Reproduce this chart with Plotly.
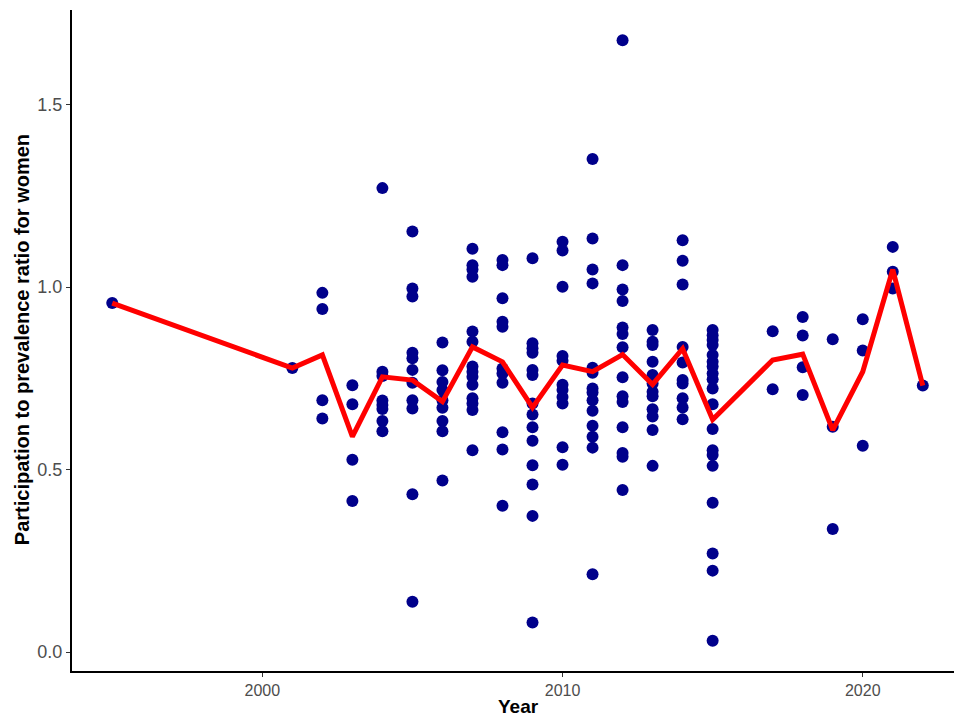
import plotly.graph_objects as go

# Individual study points (year, participation-to-prevalence ratio)
y1995 = [0.956]
y2001 = [0.778]
y2002 = [0.984, 0.940, 0.690, 0.640]
y2003 = [0.731, 0.679, 0.527, 0.414]
y2004 = [1.271, 0.768, 0.756, 0.689, 0.677, 0.666, 0.633, 0.605]
y2005 = [1.152, 0.996, 0.974, 0.820, 0.805, 0.773, 0.738, 0.690, 0.667, 0.432, 0.138]
y2006 = [0.848, 0.772, 0.740, 0.718, 0.690, 0.669, 0.633, 0.605, 0.470]
y2007 = [1.105, 1.060, 1.048, 1.028, 0.878, 0.850, 0.782, 0.768, 0.754, 0.732,
         0.695, 0.681, 0.663, 0.553]
y2008 = [1.074, 1.060, 0.969, 0.905, 0.891, 0.777, 0.763, 0.738, 0.602, 0.555, 0.401]
y2009 = [1.079, 0.846, 0.832, 0.820, 0.773, 0.759, 0.681, 0.651, 0.616, 0.579,
         0.512, 0.459, 0.373, 0.081]
y2010 = [1.124, 1.100, 1.001, 0.811, 0.798, 0.732, 0.718, 0.699, 0.681, 0.561, 0.513]
y2011 = [1.351, 1.133, 1.048, 1.010, 0.779, 0.765, 0.722, 0.711, 0.690, 0.661,
         0.620, 0.590, 0.560, 0.213]
y2012 = [1.676, 1.060, 0.993, 0.962, 0.889, 0.871, 0.835, 0.753, 0.701, 0.685,
         0.616, 0.545, 0.535, 0.444]
y2013 = [0.882, 0.850, 0.841, 0.795, 0.759, 0.736, 0.713, 0.701, 0.665, 0.645, 0.608, 0.510]
y2014 = [1.128, 1.072, 1.007, 0.836, 0.793, 0.745, 0.736, 0.695, 0.670, 0.638]
y2015 = [0.882, 0.868, 0.855, 0.841, 0.814, 0.795, 0.782, 0.763, 0.747, 0.722,
         0.679, 0.611, 0.553, 0.540, 0.510, 0.409, 0.270, 0.223, 0.031]
y2017 = [0.879, 0.720]
y2018 = [0.918, 0.867, 0.780, 0.704]
y2019 = [0.857, 0.617, 0.337]
y2020 = [0.912, 0.826, 0.565]
y2021 = [1.110, 1.042, 0.996]
y2022 = [0.730]

point_groups = [
    (1995, y1995), (2001, y2001), (2002, y2002), (2003, y2003), (2004, y2004),
    (2005, y2005), (2006, y2006), (2007, y2007), (2008, y2008), (2009, y2009),
    (2010, y2010), (2011, y2011), (2012, y2012), (2013, y2013), (2014, y2014),
    (2015, y2015), (2017, y2017), (2018, y2018), (2019, y2019), (2020, y2020),
    (2021, y2021), (2022, y2022),
]

# Yearly mean line
line_years = [1995, 2001, 2002, 2003, 2004, 2005, 2006, 2007, 2008, 2009, 2010,
              2011, 2012, 2013, 2014, 2015, 2017, 2018, 2019, 2020, 2021, 2022]
line_ratio = [0.956, 0.778, 0.814, 0.590, 0.754, 0.745, 0.686, 0.836, 0.795, 0.670,
              0.786, 0.768, 0.815, 0.733, 0.831, 0.637, 0.800, 0.816, 0.608, 0.768,
              1.048, 0.730]

x_ticks = [2000, 2010, 2020]
y_ticks = [0.0, 0.5, 1.0, 1.5]
x_title = "Year"
y_title = "Participation to prevalence ratio for women"

px, py = [], []
for yr, vals in point_groups:
    for v in vals:
        px.append(yr)
        py.append(v)

fig = go.Figure()
fig.add_trace(go.Scatter(
    x=px, y=py, mode="markers",
    marker=dict(color="#00008B", size=12, line=dict(width=0)),
    showlegend=False, hoverinfo="x+y",
))
fig.add_trace(go.Scatter(
    x=line_years, y=line_ratio, mode="lines",
    line=dict(color="#FF0000", width=5),
    showlegend=False,
))

font_family = "Liberation Sans, Arial, Helvetica, sans-serif"
fig.update_layout(
    width=954, height=716,
    margin=dict(l=72, r=0, t=10, b=45),
    paper_bgcolor="white", plot_bgcolor="white",
    font=dict(family=font_family, color="#000000"),
    xaxis=dict(
        range=[1993.66, 2023.04],
        tickvals=x_ticks, ticktext=[str(t) for t in x_ticks],
        showgrid=False, zeroline=False,
        showline=True, linecolor="black", linewidth=2,
        ticks="outside", ticklen=4, tickwidth=1.2, tickcolor="#333333",
        tickfont=dict(size=16, color="#4D4D4D", family=font_family),
    ),
    yaxis=dict(
        range=[-0.052, 1.759],
        tickvals=y_ticks, ticktext=["0.0", "0.5", "1.0", "1.5"],
        showgrid=False, zeroline=False,
        showline=True, linecolor="black", linewidth=2,
        ticks="outside", ticklen=4, tickwidth=1.2, tickcolor="#333333",
        tickfont=dict(size=18, color="#4D4D4D", family=font_family),
    ),
    annotations=[
        dict(text="<b>" + x_title + "</b>", xref="paper", yref="paper",
             x=0.5057, y=-0.053, xanchor="center", yanchor="middle",
             showarrow=False, font=dict(size=19, color="black", family=font_family)),
        dict(text="<b>" + y_title + "</b>", xref="paper", yref="paper",
             x=-0.0567, y=0.502, xanchor="center", yanchor="middle", textangle=-90,
             showarrow=False, font=dict(size=20, color="black", family=font_family)),
    ],
)

fig.write_html("out.html", config={"displayModeBar": False},
               post_script="document.body.style.margin='0';")
